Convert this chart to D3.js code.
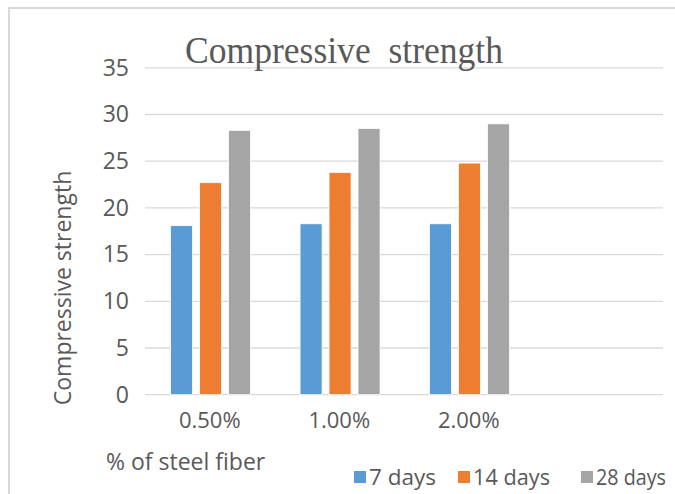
<!DOCTYPE html>
<html><head><meta charset="utf-8">
<script src="https://cdn.jsdelivr.net/npm/d3@7"></script>
<style>body{margin:0;background:#fff}svg{display:block}</style>
</head><body>
<svg id="c" width="675" height="494"></svg>
<script>
const categories = ["0.50%", "1.00%", "2.00%", ""];
const seriesNames = ["7 days", "14 days", "28 days"];
const days7 = [18.1, 18.3, 18.3, null];
const days14 = [22.7, 23.8, 24.8, null];
const days28 = [28.3, 28.5, 29.0, null];
const yTicks = [0, 5, 10, 15, 20, 25, 30, 35];
const colors = ["#5b9bd5", "#ed7d31", "#a5a5a5"];
const series = [days7, days14, days28];

const svg = d3.select("#c");
const txt = "#595959";
const sans = "'Open Sans', 'Noto Sans', sans-serif";

// frame
svg.append("path").attr("d", "M9,494 V8 H675").attr("fill", "none")
  .attr("stroke", "#d9d9d9").attr("stroke-width", 2);

const x0 = d3.scaleBand().domain(categories).range([145, 663]).padding(0);
const groupW = 80;
const x1 = d3.scaleBand().domain(seriesNames).range([0, groupW]).paddingInner(0.24).paddingOuter(0);
const y = d3.scaleLinear().domain([0, 35]).range([394.7, 67.8]);

// gridlines
svg.append("g").selectAll("line").data(yTicks).join("line")
  .attr("x1", 145).attr("x2", 663)
  .attr("y1", d => y(d)).attr("y2", d => y(d))
  .attr("stroke", "#d9d9d9").attr("stroke-width", 1.3);

// y axis labels
const yAxis = d3.axisLeft(y).tickValues(yTicks).tickSize(0).tickPadding(0);
const ya = svg.append("g").attr("transform", "translate(129,0)").call(yAxis);
ya.select(".domain").remove();
ya.selectAll("text").attr("font-family", sans).attr("font-size", 23).attr("fill", txt);

// bars
const grp = svg.append("g").selectAll("g").data(categories).join("g")
  .attr("transform", d => `translate(${x0(d) + (x0.bandwidth() - groupW) / 2 + 0.8},0)`);
grp.selectAll("rect").data((d, i) => seriesNames.map((s, j) => ({ s, v: series[j][i], j })).filter(e => e.v != null))
  .join("rect")
  .attr("x", d => x1(d.s)).attr("width", x1.bandwidth())
  .attr("y", d => y(d.v)).attr("height", d => y(0) - y(d.v))
  .attr("fill", d => colors[d.j]).attr("stroke", "#fff").attr("stroke-width", 0.8);

// x axis labels
const xAxis = d3.axisBottom(x0).tickSize(0).tickPadding(0);
const xa = svg.append("g").attr("transform", "translate(0,412)").call(xAxis);
xa.select(".domain").remove();
xa.selectAll("text").attr("font-family", sans).attr("font-size", 22).attr("fill", txt);

// title
svg.append("text").attr("x", 185).attr("y", 63).attr("font-family", "'Liberation Serif', 'Times New Roman', serif")
  .attr("font-size", 37).attr("fill", txt).attr("textLength", 318).attr("lengthAdjust", "spacingAndGlyphs")
  .attr("xml:space", "preserve").text("Compressive  strength");

// y title
svg.append("text").attr("transform", "translate(71,288) rotate(-90)").attr("text-anchor", "middle")
  .attr("font-family", sans).attr("font-size", 23).attr("fill", txt).text("Compressive strength");

// x title
svg.append("text").attr("x", 106).attr("y", 470).attr("font-family", sans)
  .attr("font-size", 23).attr("fill", txt).text("% of steel fiber");

// legend
const legX = [354, 458, 581];
const legW = [67, 77, 70];
const leg = svg.append("g").selectAll("g").data(seriesNames).join("g")
  .attr("transform", (d, i) => `translate(${legX[i]},477)`);
leg.append("rect").attr("x", 0).attr("y", -6).attr("width", 12).attr("height", 12).attr("fill", (d, i) => colors[i]);
leg.append("text").attr("x", 15).attr("y", 8).attr("font-family", sans).attr("font-size", 22)
  .attr("textLength", (d, i) => legW[i]).attr("lengthAdjust", "spacingAndGlyphs")
  .attr("fill", txt).text(d => d);
</script>
</body></html>
